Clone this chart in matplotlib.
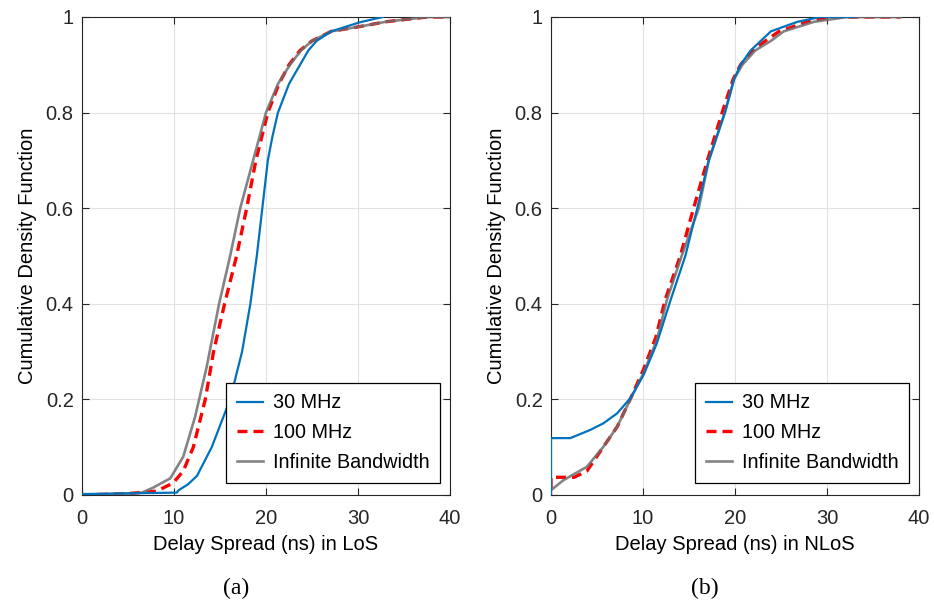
import matplotlib
matplotlib.use("Agg")
import matplotlib.pyplot as plt
from matplotlib.ticker import FuncFormatter

plt.rcParams['font.family'] = ['Liberation Sans', 'DejaVu Sans']

# (a) LoS delay spread CDFs
los_30_x = [0, 10.3, 10.5, 11.5, 12.5, 14.1, 16.1, 17.4, 18.3, 19.0, 19.6, 20.2, 20.7, 21.3, 22.5, 23.7, 24.6, 25.5, 27.1, 30.2, 32.7]
los_30_y = [0.002, 0.005, 0.01, 0.022, 0.04, 0.1, 0.2, 0.3, 0.4, 0.5, 0.6, 0.7, 0.75, 0.8, 0.86, 0.9, 0.93, 0.95, 0.97, 0.989, 1.0]
los_100_x = [0, 5, 8.1, 9.9, 11.0, 12.1, 13.4, 14.3, 15.5, 16.8, 17.9, 18.9, 20.2, 21.4, 22.5, 23.7, 25.0, 27.1, 30.2, 33, 37.5, 39.6]
los_100_y = [0, 0.003, 0.008, 0.025, 0.05, 0.1, 0.2, 0.3, 0.4, 0.5, 0.6, 0.7, 0.8, 0.86, 0.9, 0.93, 0.95, 0.97, 0.98, 0.99, 1.0, 1.0]
los_inf_x = [0, 5, 6.5, 7.7, 9.6, 11.0, 12.3, 13.55, 14.9, 16.1, 17.2, 18.6, 20.0, 21.3, 22.6, 23.8, 25.0, 27.1, 30.2, 33, 37.5, 40]
los_inf_y = [0, 0.003, 0.005, 0.015, 0.035, 0.08, 0.164, 0.268, 0.4, 0.5, 0.6, 0.7, 0.8, 0.86, 0.9, 0.93, 0.95, 0.97, 0.98, 0.99, 1.0, 1.0]

# (b) NLoS delay spread CDFs
nlos_30_x = [0, 0, 2.1, 4.25, 5.7, 7.2, 8.6, 10.06, 11.5, 13.0, 14.6, 15.9, 17.15, 18.9, 19.9, 20.6, 21.7, 22.8, 23.9, 26.8, 29.3, 33]
nlos_30_y = [0, 0.119, 0.119, 0.136, 0.15, 0.171, 0.202, 0.251, 0.317, 0.408, 0.5, 0.6, 0.7, 0.8, 0.87, 0.9, 0.93, 0.95, 0.97, 0.99, 1.0, 1.0]
nlos_100_x = [0, 0, 2.5, 3.9, 5.7, 7.2, 8.6, 10.0, 11.4, 12.4, 14.05, 15.5, 17.0, 18.6, 19.8, 20.6, 21.9, 23.3, 24.8, 27.9, 30.4, 38]
nlos_100_y = [0.014, 0.037, 0.037, 0.05, 0.101, 0.143, 0.2, 0.26, 0.33, 0.408, 0.5, 0.6, 0.7, 0.8, 0.87, 0.9, 0.93, 0.95, 0.97, 0.99, 1.0, 1.0]
nlos_inf_x = [0, 1.35, 3.9, 5.7, 7.2, 8.6, 10.06, 11.5, 12.6, 14.2, 16.06, 17.15, 18.9, 19.9, 20.8, 22.2, 23.9, 25.3, 28.6, 32.2, 38]
nlos_inf_y = [0.01, 0.031, 0.059, 0.101, 0.143, 0.199, 0.255, 0.324, 0.408, 0.5, 0.6, 0.7, 0.8, 0.87, 0.9, 0.93, 0.95, 0.97, 0.99, 1.0, 1.0]

labels = ["30 MHz", "100 MHz", "Infinite Bandwidth"]
xlabels = ["Delay Spread (ns) in LoS", "Delay Spread (ns) in NLoS"]
captions = ["(a)", "(b)"]
x_ticks = [0, 10, 20, 30, 40]
y_ticks = [0, 0.2, 0.4, 0.6, 0.8, 1]

panels = [
    (los_30_x, los_30_y, los_100_x, los_100_y, los_inf_x, los_inf_y),
    (nlos_30_x, nlos_30_y, nlos_100_x, nlos_100_y, nlos_inf_x, nlos_inf_y),
]

fig = plt.figure(figsize=(9.34, 6.07), dpi=100)
ax_lefts = [82 / 934, 551 / 934]
ax_w = 368 / 934
ax_b = 112 / 607
ax_h = 478 / 607
cap_x = [236 / 934, 705 / 934]

edge = "#262626"
for i, (x30, y30, x100, y100, xinf, yinf) in enumerate(panels):
    ax = fig.add_axes([ax_lefts[i], ax_b, ax_w, ax_h])
    l1, = ax.plot(x30, y30, color="#0072BD", lw=1.6, zorder=4)
    l2, = ax.plot(x100, y100, color="#FF0000", lw=2.4, ls=(0, (3, 1.8)), zorder=2)
    l3, = ax.plot(xinf, yinf, color="#6e6e6e", lw=1.9, alpha=0.85, zorder=3)
    ax.set_xlim(0, 40)
    ax.set_ylim(0, 1)
    ax.set_xticks(x_ticks)
    ax.set_yticks(y_ticks)
    ax.yaxis.set_major_formatter(FuncFormatter(lambda v, p: "%g" % v))
    ax.grid(True, color="#e1e1e1", lw=0.8)
    ax.set_axisbelow(True)
    ax.tick_params(direction="in", top=True, right=True, length=5, width=0.8,
                   colors=edge, labelsize=14.5)
    ax.tick_params(axis="x", pad=10)
    ax.tick_params(axis="y", pad=6)
    for s in ax.spines.values():
        s.set_color(edge)
        s.set_linewidth(0.8)
    ax.set_xlabel(xlabels[i], fontsize=14.5, color="black", labelpad=5)
    ax.set_ylabel("Cumulative Density Function", fontsize=14.5, color="black", labelpad=6)
    # legend sits a little inside the lower right corner, like the MATLAB box
    leg = ax.legend([l1, l2, l3], labels, loc="lower right", fontsize=14.2,
                    bbox_to_anchor=(1 - 10 / 368, 12 / 478), borderaxespad=0,
                    fancybox=False, framealpha=1, edgecolor="black",
                    handlelength=1.3, handletextpad=0.5, labelspacing=0.55,
                    borderpad=0.55)
    leg.get_frame().set_linewidth(0.9)
    fig.text(cap_x[i], 19 / 607, captions[i], ha="center", va="center",
             fontsize=17, family="Liberation Serif")

fig.savefig("out.png", dpi=100)
